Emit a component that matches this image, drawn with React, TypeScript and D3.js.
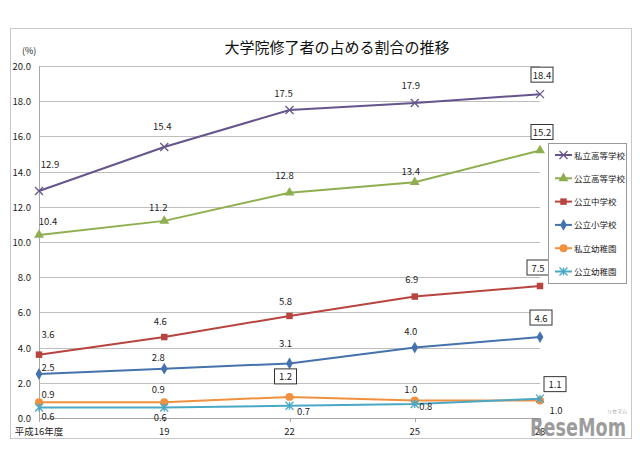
import React from "react";
import * as d3 from "d3";

const categories = ["平成16年度", "19", "22", "25", "28"];
const seriesNames = ["私立高等学校", "公立高等学校", "公立中学校", "公立小学校", "私立幼稚園", "公立幼稚園"];
const privateHigh = [12.9, 15.4, 17.5, 17.9, 18.4];
const publicHigh = [10.4, 11.2, 12.8, 13.4, 15.2];
const publicJunior = [3.6, 4.6, 5.8, 6.9, 7.5];
const publicElem = [2.5, 2.8, 3.1, 4.0, 4.6];
const privateKinder = [0.9, 0.9, 1.2, 1.0, 1.0];
const publicKinder = [0.6, 0.6, 0.7, 0.8, 1.1];
const yTicks = [0, 2, 4, 6, 8, 10, 12, 14, 16, 18, 20];
// which labels are boxed (per series, per category)
const boxed = [
  [false, false, false, false, true],
  [false, false, false, false, true],
  [false, false, false, false, true],
  [false, false, false, false, true],
  [false, false, true, false, false],
  [false, false, false, false, true],
];

// layout: label offsets (dx, dy) from point, in px
const labelOffsets: [number, number][][] = [
  [[11, -26], [-2, -20], [-6, -17], [-4, -17], [2, -19]],
  [[9, -13], [-6, -13], [-5, -17], [-4, -11], [2, -18]],
  [[9, -20], [-4, -16], [-4, -14], [-3, -17], [-2, -18]],
  [[9, -7], [-6, -11], [-4, -20], [-4, -16], [1, -19]],
  [[9, -8], [-6, -13], [-4, -20], [-4, -11], [16, 10]],
  [[9, 9], [-4, 10], [14, 6], [11, 3], [15, -14]],
];

const colors = ["#66558C", "#8FAE4F", "#B8443F", "#4472AC", "#F0913F", "#4AA8C4"];
const markerTypes = ["x", "triangle", "square", "diamond", "circle", "star"];
const allSeries = [privateHigh, publicHigh, publicJunior, publicElem, privateKinder, publicKinder];

const W = 640, H = 449;
const x = d3.scalePoint<string>().domain(categories).range([39, 540]);
const y = d3.scaleLinear().domain([0, 20]).range([418, 66]);

const FONT = "'Noto Sans CJK JP', 'Noto Sans', sans-serif";

function Marker({ type, cx, cy, color }: { type: string; cx: number; cy: number; color: string }) {
  if (type === "x") {
    return <path d={`M${cx - 4},${cy - 4}L${cx + 4},${cy + 4}M${cx - 4},${cy + 4}L${cx + 4},${cy - 4}`} stroke={color} strokeWidth={1.3} />;
  }
  if (type === "star") {
    return <path d={`M${cx - 4},${cy - 4}L${cx + 4},${cy + 4}M${cx - 4},${cy + 4}L${cx + 4},${cy - 4}M${cx},${cy - 4}L${cx},${cy + 4}`} stroke={color} strokeWidth={1.3} />;
  }
  const sym =
    type === "triangle" ? d3.symbolTriangle :
    type === "square" ? d3.symbolSquare :
    type === "diamond" ? d3.symbolDiamond : d3.symbolCircle;
  const size = type === "diamond" ? 40 : type === "circle" ? 50 : 42;
  return <path d={d3.symbol().type(sym).size(size)() || ""} transform={`translate(${cx},${cy})`} fill={color} />;
}

export default function App() {
  const line = d3.line<number>().x((_, i) => x(categories[i])!).y((d) => y(d));
  const fmt = d3.format(".1f");
  return (
    <svg width={W} height={H} style={{ position: "absolute", left: 0, top: 0, background: "#fff" }} fontFamily={FONT}>
      <rect x={0} y={0} width={W} height={H} fill="#fff" />
      <rect x={10.5} y={28.5} width={621} height={410} fill="none" stroke="#C8C8C8" strokeWidth={1} />
      <text x={337} y={53} textAnchor="middle" fontSize={15} fill="#111">大学院修了者の占める割合の推移</text>
      <text x={22} y={54} fontSize={9} fill="#222">(%)</text>
      {yTicks.map((t) => (
        <g key={t}>
          {t > 0 && <line x1={39} x2={540} y1={Math.round(y(t)) + 0.5} y2={Math.round(y(t)) + 0.5} stroke="#BEBEBE" strokeWidth={1} />}
          <text x={31} y={y(t) + 4} textAnchor="end" fontSize={9.5} fill="#222">{fmt(t)}</text>
        </g>
      ))}
      <line x1={39.5} x2={39.5} y1={66} y2={418} stroke="#A8A8A8" />
      <line x1={39} x2={540} y1={418.5} y2={418.5} stroke="#A8A8A8" />
      {categories.map((c) => (
        <g key={c}>
          <line x1={Math.round(x(c)!) + 0.5} x2={Math.round(x(c)!) + 0.5} y1={418} y2={422} stroke="#A8A8A8" />
          <text x={x(c)} y={435} textAnchor="middle" fontSize={9.5} fill="#222">{c}</text>
        </g>
      ))}
      {allSeries.map((s, si) => (
        <g key={si}>
          <path d={line(s) || ""} fill="none" stroke={colors[si]} strokeWidth={2} />
          {s.map((v, i) => (
            <Marker key={i} type={markerTypes[si]} cx={x(categories[i])!} cy={y(v)} color={colors[si]} />
          ))}
        </g>
      ))}
      {allSeries.map((s, si) =>
        s.map((v, i) => {
          const [dx, dy] = labelOffsets[si][i];
          const cx = x(categories[i])! + dx;
          const cy = y(v) + dy;
          return (
            <g key={`${si}-${i}`}>
              {boxed[si][i] && <rect x={cx - 11} y={cy - 8} width={22} height={15} fill="#fff" stroke="#333" strokeWidth={1} />}
              <text x={cx} y={cy + 3.5} textAnchor="middle" fontSize={9.5} fill="#222">{fmt(v)}</text>
            </g>
          );
        })
      )}
      <rect x={548.5} y={143.5} width={78} height={140} fill="#fff" stroke="#9A9A9A" strokeWidth={1} />
      {seriesNames.map((n, si) => {
        const ly = 155 + si * 23.3;
        return (
          <g key={n}>
            <line x1={555} x2={572} y1={ly} y2={ly} stroke={colors[si]} strokeWidth={2} />
            <Marker type={markerTypes[si]} cx={563.5} cy={ly} color={colors[si]} />
            <text x={574} y={ly + 3.5} fontSize={8.5} fill="#222">{n}</text>
          </g>
        );
      })}
      <text x={627} y={413} textAnchor="end" fontSize={5} fill="#999">リセマム</text>
      <text x={530} y={436} fontSize={24} fontWeight="bold" fill="#8A8A8A" fillOpacity={0.85} fontFamily="'DejaVu Sans', sans-serif" textLength={96} lengthAdjust="spacingAndGlyphs">ReseMom</text>
    </svg>
  );
}
